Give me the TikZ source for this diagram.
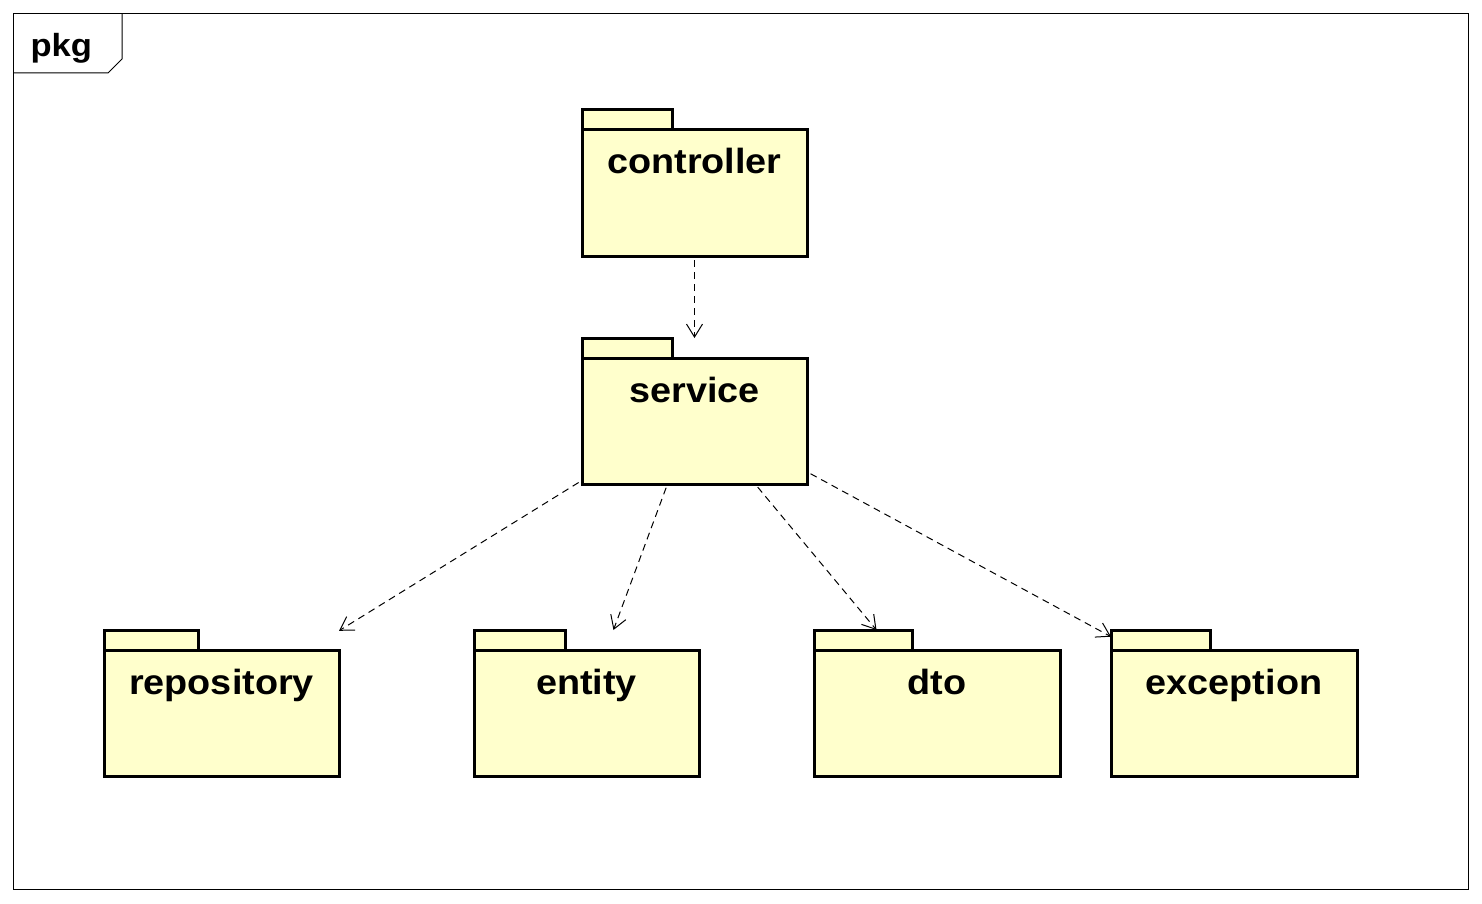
\documentclass[tikz,border=0pt]{standalone}
\usepackage{fontspec}
\setmainfont[FakeStretch=1.08]{Liberation Sans}
\usepackage{tikz}
\usetikzlibrary{arrows.meta,calc}
\definecolor{pkgyellow}{RGB}{255,255,204}

\begin{document}
\begin{tikzpicture}[x=1pt,y=-1pt,
pkgbox/.style={rectangle,inner sep=0pt,outer sep=0pt,minimum height=146,anchor=north west},
pkgtab/.style={draw,line width=3pt,fill=pkgyellow,inner sep=0pt,outer sep=0pt,minimum height=20,anchor=north west},
pkgbody/.style={draw,line width=3pt,fill=pkgyellow,inner sep=0pt,outer sep=0pt,minimum height=126,anchor=south west},
pkgname/.style={anchor=base,font=\fontsize{35}{40}\selectfont\bfseries},
dep/.style={line width=1pt,dash pattern=on 7pt off 5pt,-{Straight Barb[length=13pt,width=16pt]},shorten <=4pt}]
\useasboundingbox(0,0)rectangle(1482,904);
% frame
\draw[line width=1pt](13.5,13.5)rectangle(1468.5,889.5);
\draw[line width=1pt](13.5,73)--(108,73)--(122,59)--(122,13.5);
\node[anchor=base west,font=\fontsize{32}{36}\selectfont\bfseries](pkglabel)at(27,57){pkg};
% packages
\foreach \n/\x/\y/\w/\t in {controller/582/110/225/90,service/582/338/225/90,repository/104/630/235/94,
  entity/474/630/225/91,dto/814/630/246/98,exception/1111/630/246/99}{
\node[pkgbox,minimum width=\w](\n)at(\x,\y){};
\node[pkgtab,minimum width=\t](\n-tab)at(\n.north west){};
\node[pkgbody,minimum width=\w](\n-body)at(\n.south west){};
\node[pkgname](\n-name)at($(\n-body.north)+(0,44)$){\n};
}
% dependencies
\draw[dep](controller)--(service);
\foreach \m in {repository,entity,dto,exception}\draw[dep](service)--(\m);
\end{tikzpicture}
\end{document}
